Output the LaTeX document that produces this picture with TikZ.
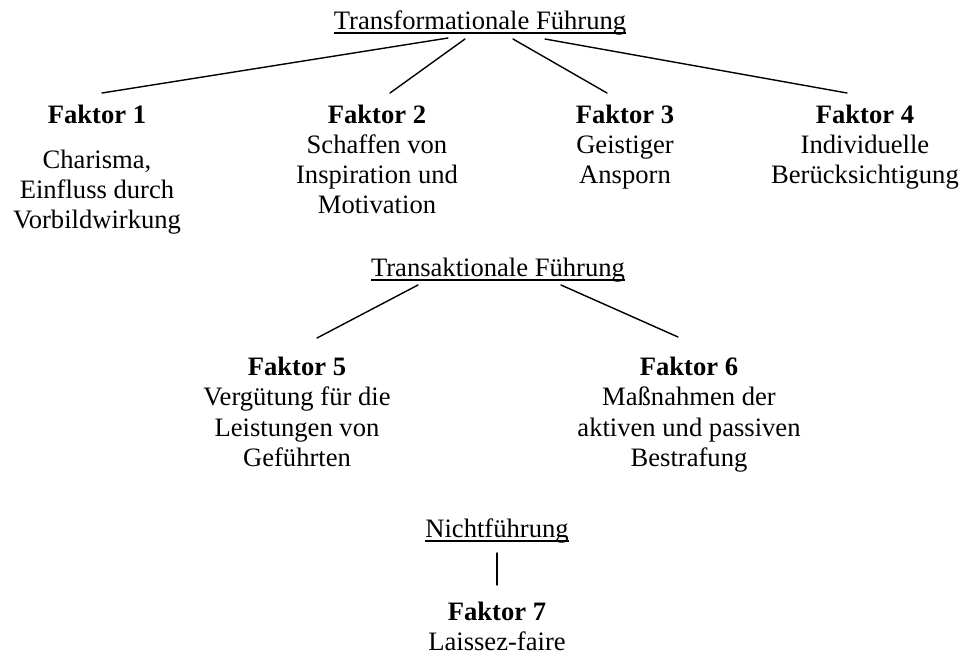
\documentclass[tikz,border=0pt]{standalone}
\usepackage{fontspec}
\setmainfont{Liberation Serif}
\begin{document}
\begin{tikzpicture}[x=1pt,y=-1pt,
  txt/.style={anchor=base,inner sep=0pt,outer sep=0pt,font=\fontsize{26.6}{30}\selectfont},
  hd/.style={txt,font=\fontsize{26.6}{30}\selectfont\bfseries},
  conn/.style={line width=1.4pt,line cap=round},
  uline/.style={line width=1.3pt}]
\useasboundingbox (0,0) rectangle (959,654);
% titles
\node[txt] (t1) at (480,29) {Transformationale Führung};
\node[txt] (t2) at (498,276) {Transaktionale Führung};
\node[txt] (t3) at (497,537) {Nichtführung};
\draw[uline] ([yshift=-4pt]t1.base west) -- ([yshift=-4pt]t1.base east);
\draw[uline] ([yshift=-4pt]t2.base west) -- ([yshift=-4pt]t2.base east);
\draw[uline] ([yshift=-4pt]t3.base west) -- ([yshift=-4pt]t3.base east);
% Faktor 1
\node[hd]  (f1)  at (97,123) {Faktor 1};
\node[txt] (f1a) at (97,168) {Charisma,};
\node[txt] (f1b) at (97,198) {Einfluss durch};
\node[txt] (f1c) at (97,228) {Vorbildwirkung};
% Faktor 2
\node[hd]  (f2)  at (377,123) {Faktor 2};
\node[txt] (f2a) at (377,153) {Schaffen von};
\node[txt] (f2b) at (377,183) {Inspiration und};
\node[txt] (f2c) at (377,213) {Motivation};
% Faktor 3
\node[hd]  (f3)  at (625,123) {Faktor 3};
\node[txt] (f3a) at (625,153) {Geistiger};
\node[txt] (f3b) at (625,183) {Ansporn};
% Faktor 4
\node[hd]  (f4)  at (865,123) {Faktor 4};
\node[txt] (f4a) at (865,153) {Individuelle};
\node[txt] (f4b) at (865,183) {Berücksichtigung};
% Faktor 5
\node[hd]  (f5)  at (297,375) {Faktor 5};
\node[txt] (f5a) at (297,405) {Vergütung für die};
\node[txt] (f5b) at (297,436) {Leistungen von};
\node[txt] (f5c) at (297,466) {Geführten};
% Faktor 6
\node[hd]  (f6)  at (689,375) {Faktor 6};
\node[txt] (f6a) at (689,405) {Maßnahmen der};
\node[txt] (f6b) at (689,436) {aktiven und passiven};
\node[txt] (f6c) at (689,466) {Bestrafung};
% Faktor 7
\node[hd]  (f7)  at (497,620) {Faktor 7};
\node[txt] (f7a) at (497,650) {Laissez-faire};
% connector ends
\coordinate (a1) at (448,38);  \coordinate (b1) at (102,93);
\coordinate (a2) at (465,39);  \coordinate (b2) at (390,93);
\coordinate (a3) at (513,39);  \coordinate (b3) at (607,93);
\coordinate (a4) at (545,39);  \coordinate (b4) at (847,93);
\coordinate (a5) at (418,285); \coordinate (b5) at (317,338);
\coordinate (a6) at (561,285); \coordinate (b6) at (678,337);
\coordinate (a7) at (497,553); \coordinate (b7) at (497,585);
\foreach \i in {1,...,7} \draw[conn] (a\i) -- (b\i);
\end{tikzpicture}
\end{document}
